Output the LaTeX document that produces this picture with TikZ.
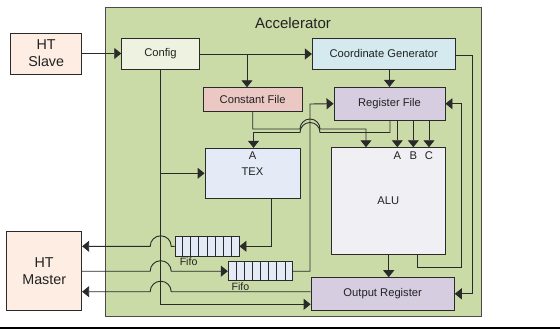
\documentclass[tikz,border=0pt]{standalone}
\usepackage{fontspec}
\setmainfont{Liberation Sans}
\usetikzlibrary{arrows.meta,calc}
\definecolor{accfill}{HTML}{CADBA8}
\definecolor{htfill}{HTML}{FDEDE3}
\definecolor{cfgfill}{HTML}{EEF2E1}
\definecolor{cgfill}{HTML}{D4EAEE}
\definecolor{cffill}{HTML}{EBC8C4}
\definecolor{rffill}{HTML}{D6CDE1}
\definecolor{texfill}{HTML}{E4EBF7}
\definecolor{alufill}{HTML}{F0EFF4}
\definecolor{edge}{HTML}{2A2A2A}
\definecolor{txt}{HTML}{222222}
\tikzset{
  blk/.style={draw=edge, line width=0.9pt, inner sep=0pt, text=txt, font=\fontsize{11.2}{13}\selectfont},
  htblk/.style={blk, fill=htfill, font=\fontsize{14.3}{17}\selectfont, align=center},
  conn/.style={draw=edge, line width=0.9pt},
  arr/.style={conn, -{Triangle[length=7pt,width=11pt]}},
  lbl/.style={text=txt, inner sep=0pt, font=\fontsize{11.2}{13}\selectfont},
  fifolbl/.style={text=txt, inner sep=0pt, font=\fontsize{10.6}{12}\selectfont, anchor=north west}
}
\begin{document}
\begin{tikzpicture}[x=1pt,y=-1pt]
\useasboundingbox (0,0) rectangle (560,329);
\fill[black] (0,326.5) rectangle (560,329);
% accelerator
\node[draw=edge!85, line width=1pt, fill=accfill, minimum width=375.5pt, minimum height=308.5pt, inner sep=0pt] (acc) at (293.25,161.75) {};
\node[lbl, font=\fontsize{15}{18}\selectfont] (title) at (293,23) {Accelerator};
% blocks
\node[htblk, minimum width=71pt, minimum height=41pt] (slave) at (46.2,53.5) {HT\\Slave};
\node[htblk, minimum width=75pt, minimum height=79pt] (master) at (44.2,271.2) {HT\\Master};
\node[blk, fill=cfgfill, minimum width=77.6pt, minimum height=30.6pt] (config) at (160.5,54) {Config};
\node[blk, fill=cgfill, minimum width=142.7pt, minimum height=31pt] (cg) at (383.7,53.8) {Coordinate Generator};
\node[blk, fill=cffill, minimum width=98.7pt, minimum height=23.7pt] (cf) at (252.7,99.2) {Constant File};
\node[blk, fill=rffill, minimum width=111pt, minimum height=32.7pt] (rf) at (389.5,103.7) {Register File};
\node[blk, fill=texfill, minimum width=95pt, minimum height=50pt] (tex) at (252.5,173.3) {};
\node[lbl] (texlbl) at (252.5,171.7) {TEX};
\node[lbl] (texa) at (252.5,156) {A};
\node[blk, fill=alufill, minimum width=113.3pt, minimum height=106.6pt] (alu) at (388.3,201) {ALU};
\node[lbl] (alua) at (397.3,155.5) {A};
\node[lbl] (alub) at (413.3,155.5) {B};
\node[lbl] (aluc) at (429,155.5) {C};
\node[blk, fill=rffill, minimum width=143.3pt, minimum height=32.3pt] (outreg) at (382.7,293.8) {Output Register};
% fifos
\node[blk, fill=texfill, minimum width=64pt, minimum height=19.3pt] (fifo1) at (207,246.3) {};
\node[blk, fill=texfill, minimum width=64.4pt, minimum height=19pt] (fifo2) at (260.5,271.2) {};
\foreach \f in {fifo1,fifo2}{
  \foreach \i in {1,...,7}{
    \draw[conn] ($(\f.south west)!\i/8!(\f.south east)$) -- ($(\f.north west)!\i/8!(\f.north east)$);
  }
}
\node[fifolbl] (f1lbl) at ($(fifo1.south west)+(5,1.5)$) {Fifo};
\node[fifolbl] (f2lbl) at ($(fifo2.south west)+(3.5,1.5)$) {Fifo};
% coordinates
\coordinate (cfin) at (247,54);
\coordinate (cfinb) at (247,87.3);
\coordinate (cfdown) at (252.7,129);
\coordinate (aluin) at (366,129);
\coordinate (rfdown) at (390,132.5);
\coordinate (texin) at (253.5,132.5);
\coordinate (vx) at (310,104);
% connectors top
\draw[arr] (slave.east) -- (slave.east -| config.west);
\draw[arr] (config.east) -- (config.east -| cg.west);
\draw[arr] (cfin) -- (cfinb);
\draw[arr] (rf.north |- cg.south) -- (rf.north);
% config vertical
\draw[arr] (config.south) -- (config.south |- 0,304.3) -- (outreg.west |- 0,304.3);
\draw[arr] (config.south |- tex.west) -- (tex.west);
% register file to ALU
\foreach \xx in {397.3,413.3,429}{
  \draw[arr] (rf.south -| \xx,0) -- (alu.north -| \xx,0);
}
% constant file to ALU, jump over x=310
\draw[arr] (cf.south -| cfdown) -- (cfdown) -- (300,129) arc[start angle=180,end angle=0,radius=10pt] -- (aluin) -- (alu.north -| aluin);
% register file to TEX A, jump
\draw[arr] (rf.south -| rfdown) -- (rfdown) -- (320,132.5) arc[start angle=0,end angle=180,radius=10pt] -- (texin) -- (tex.north -| texin);
% TEX to fifo1
\draw[arr] (tex.south -| 271.7,0) -- (271.7,246.3) -- (fifo1.east);
% fifo1 to master, jump
\draw[arr] (fifo1.west) -- (171.2,246.3) arc[start angle=0,end angle=180,radius=10.5pt] -- (master.east |- fifo1.west);
% master to fifo2, jump
\draw[arr] (master.east |- fifo2.west) -- (150.2,271.2) arc[start angle=180,end angle=0,radius=10.5pt] -- (fifo2.west);
% outreg to master, jump
\draw[arr] (outreg.west |- 0,291.7) -- (171.2,291.7) arc[start angle=0,end angle=180,radius=10.5pt] -- (master.east |- 0,291.7);
% fifo2 to register file
\draw[arr] (fifo2.east) -- (fifo2.east -| vx) -- (vx) -- (rf.west);
% ALU bottom to register file right
\draw[arr] (alu.south -| 417.3,0) -- (417.3,267.7) -- (461.7,267.7) -- (461.7,103.7) -- (rf.east);
% ALU to output register
\draw[arr] (alu.south -| 388.7,0) -- (outreg.north -| 388.7,0);
% coordinate generator to output register
\draw[arr] (cg.east |- 0,55) -- (472.7,55) -- (472.7,293.8) -- (outreg.east);
\end{tikzpicture}
\end{document}
